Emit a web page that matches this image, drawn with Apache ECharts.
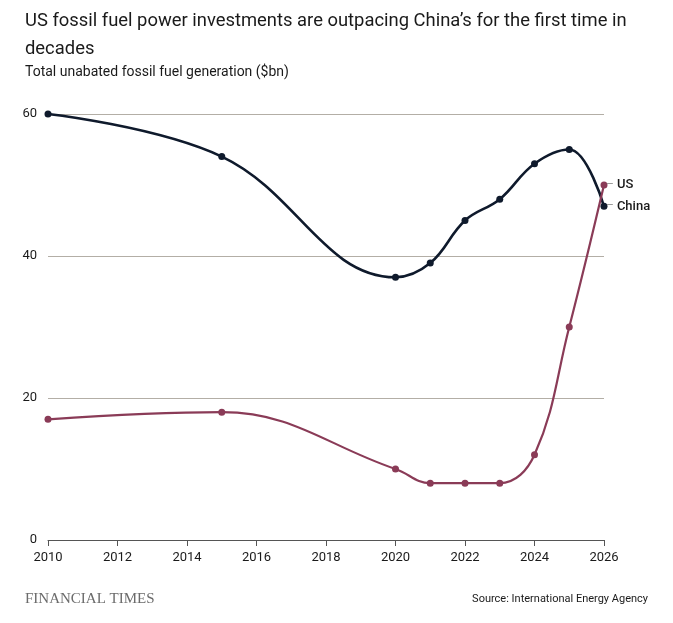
<!DOCTYPE html>
<html>
<head>
<meta charset="utf-8">
<script src="https://cdn.jsdelivr.net/npm/echarts@6/dist/echarts.min.js"></script>
<style>
  html, body { margin: 0; padding: 0; background: #fff; }
  #chart { width: 673px; height: 623px; }
</style>
</head>
<body>
<div id="chart"></div>
<script>
// values ($bn)
const years = [2010, 2015, 2020, 2021, 2022, 2023, 2024, 2025, 2026];
const china = [60, 54, 37, 39, 45, 48, 53, 55, 47];
const us = [17, 18, 10, 8, 8, 8, 12, 30, 50];
const yTicks = [0, 20, 40, 60];

const FONT = '"Roboto", "Liberation Sans", sans-serif';
const chinaColor = '#0f1a2c';
const usColor = '#8a3b57';

const pairs = (xs, ys) => xs.map((x, i) => [x, ys[i]]);

const chart = echarts.init(document.getElementById('chart'));

chart.setOption({
  backgroundColor: '#fff',
  animation: false,
  title: [
    {
      text: 'US fossil fuel power investments are outpacing China\u2019s for the first time in\ndecades',
      left: 20, top: 2,
      textStyle: { fontFamily: FONT, fontSize: 18.4, fontWeight: 'normal', color: '#1a1a1a', lineHeight: 28 }
    },
    {
      text: 'Total unabated fossil fuel generation ($bn)',
      left: 20, top: 60,
      textStyle: { fontFamily: FONT, fontSize: 14, fontWeight: 'normal', color: '#1a1a1a' }
    },
    {
      text: 'FINANCIAL TIMES',
      left: 20, top: 587,
      textStyle: { fontFamily: '"Liberation Serif", "DejaVu Serif", serif', fontSize: 15, fontWeight: 'normal', color: '#6b6b6b' }
    },
    {
      text: 'Source: International Energy Agency',
      right: 20, top: 589,
      textStyle: { fontFamily: FONT, fontSize: 11, fontWeight: 'normal', color: '#1a1a1a' }
    }
  ],
  grid: { left: 48, right: 69, top: 114, bottom: 83 },
  xAxis: {
    type: 'value',
    min: 2010, max: 2026, interval: 2,
    axisLine: { show: true, lineStyle: { color: '#555', width: 1 } },
    axisTick: { show: true, length: 6, lineStyle: { color: '#555' } },
    axisLabel: { margin: 11, color: '#1a1a1a', fontFamily: FONT, fontSize: 13, formatter: v => String(v) },
    splitLine: { show: false }
  },
  yAxis: {
    type: 'value',
    min: yTicks[0], max: yTicks[yTicks.length - 1], interval: 20,
    axisLine: { show: false },
    axisTick: { show: false },
    axisLabel: { margin: 11, color: '#1a1a1a', fontFamily: FONT, fontSize: 13,
      formatter: v => yTicks.includes(v) ? String(v) : '' },
    splitLine: { show: true, lineStyle: { color: '#b3aea6', width: 1 } }
  },
  series: [
    {
      name: 'China',
      type: 'line',
      smooth: 0.4,
      data: pairs(years, china),
      symbol: 'circle',
      symbolSize: 7,
      lineStyle: { color: chinaColor, width: 2.6 },
      itemStyle: { color: chinaColor },
      endLabel: {
        show: true,
        formatter: '{d|\u2013}{t|China}',
        distance: 2,
        rich: {
          d: { color: '#999', fontSize: 12, fontFamily: FONT, padding: [0, 3, 0, 0] },
          t: { color: '#1a1a1a', fontSize: 13, fontFamily: FONT, fontWeight: 500 }
        }
      }
    },
    {
      name: 'US',
      type: 'line',
      smooth: 0.4,
      data: pairs(years, us),
      symbol: 'circle',
      symbolSize: 7,
      lineStyle: { color: usColor, width: 2.2 },
      itemStyle: { color: usColor },
      endLabel: {
        show: true,
        formatter: '{d|\u2013}{t|US}',
        distance: 2,
        rich: {
          d: { color: '#999', fontSize: 12, fontFamily: FONT, padding: [0, 3, 0, 0] },
          t: { color: '#1a1a1a', fontSize: 13, fontFamily: FONT, fontWeight: 500 }
        }
      }
    }
  ]
});
</script>
</body>
</html>
